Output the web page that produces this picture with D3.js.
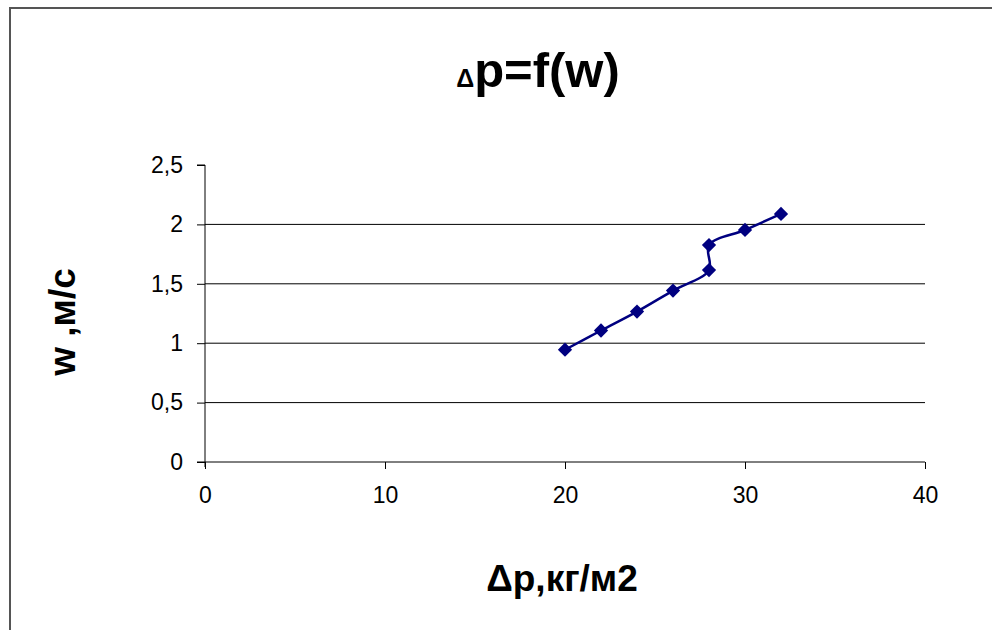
<!DOCTYPE html>
<html>
<head>
<meta charset="utf-8">
<script src="https://cdn.jsdelivr.net/npm/d3@7"></script>
<style>
  body { margin: 0; background: #fff; }
  text { font-family: "Liberation Sans", Arial, sans-serif; }
</style>
</head>
<body>
<svg id="chart"></svg>
<script>
// data
const dpValues = [20, 22, 24, 26, 28, 28, 30, 32];
const wValues = [0.945, 1.107, 1.266, 1.443, 1.616, 1.826, 1.953, 2.088];
const xTicks = [0, 10, 20, 30, 40];
const yTicks = [0, 0.5, 1, 1.5, 2, 2.5];

const width = 992;
const height = 630;
const marginLeft = 205, marginRight = 67, marginTop = 165, marginBottom = 168;

const svg = d3.select("#chart")
    .attr("width", width)
    .attr("height", height);

// outer frame (only left/top visible)
svg.append("rect")
    .attr("x", 10).attr("y", 8)
    .attr("width", 1000).attr("height", 700)
    .attr("fill", "none")
    .attr("stroke", "#555")
    .attr("stroke-width", 2);

const x = d3.scaleLinear().domain([0, 40]).range([marginLeft, width - marginRight]);
const y = d3.scaleLinear().domain([0, 2.5]).range([height - marginBottom, marginTop]);

const fmt = d => String(d).replace(".", ",");

// gridlines
svg.append("g")
    .selectAll("line")
    .data(yTicks.filter(d => d > 0 && d < 2.5))
    .join("line")
    .attr("x1", x(0)).attr("x2", x(40))
    .attr("y1", d => y(d)).attr("y2", d => y(d))
    .attr("stroke", "#000")
    .attr("stroke-width", 1);

// y axis
const yAxis = svg.append("g")
    .attr("transform", `translate(${x(0)},0)`)
    .call(d3.axisLeft(y).tickValues(yTicks).tickFormat(fmt).tickSize(8).tickPadding(14));
yAxis.select(".domain").attr("d", `M-8,${y(2.5)}H0V${y(0) + 5}`);

// x axis
const xAxis = svg.append("g")
    .attr("transform", `translate(0,${y(0)})`)
    .call(d3.axisBottom(x).tickValues(xTicks).tickSize(7).tickPadding(18));
xAxis.select(".domain").attr("d", `M${x(0) - 8},0H${x(40)}`);

svg.selectAll(".tick text")
    .attr("font-size", 23)
    .attr("font-family", "Liberation Sans, Arial, sans-serif")
    .attr("fill", "#000");
svg.selectAll(".domain, .tick line").attr("stroke", "#000");

// line
const line = d3.line()
    .x((d, i) => x(dpValues[i]))
    .y(d => y(d))
    .curve(d3.curveCatmullRom.alpha(0.5));

svg.append("path")
    .datum(wValues)
    .attr("d", line)
    .attr("fill", "none")
    .attr("stroke", "#000080")
    .attr("stroke-width", 2.5);

svg.append("g")
    .selectAll("path")
    .data(wValues)
    .join("path")
    .attr("transform", (d, i) => `translate(${x(dpValues[i])},${y(d)})`)
    .attr("d", d3.symbol(d3.symbolDiamond2, 130))
    .attr("fill", "#000080");

// title
const title = svg.append("text")
    .attr("x", 538).attr("y", 87)
    .attr("text-anchor", "middle")
    .attr("font-weight", "bold")
    .attr("font-size", 49);
title.append("tspan").attr("font-size", 25).text("Δ");
title.append("tspan").text("p=f(w)");

// axis titles
svg.append("text")
    .attr("x", 562).attr("y", 591)
    .attr("text-anchor", "middle")
    .attr("font-weight", "bold")
    .attr("font-size", 37)
    .text("Δp,кг/м2");

svg.append("text")
    .attr("transform", "translate(75,322) rotate(-90)")
    .attr("text-anchor", "middle")
    .attr("font-weight", "bold")
    .attr("font-size", 37)
    .text("w ,м/с");
</script>
</body>
</html>
